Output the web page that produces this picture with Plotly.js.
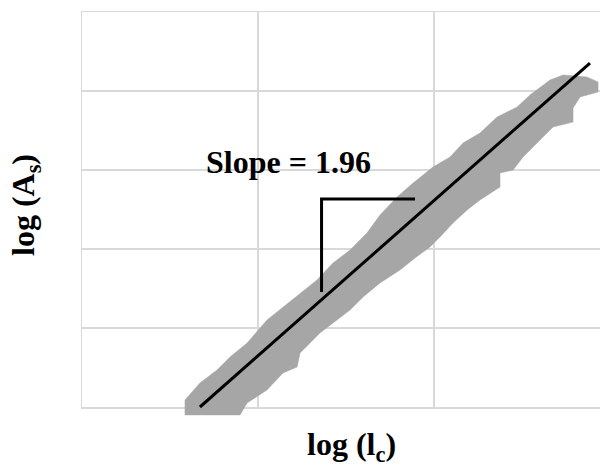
<!DOCTYPE html>
<html>
<head>
<meta charset="utf-8">
<script src="https://cdn.plot.ly/plotly-3.0.1.min.js"></script>
<style>html,body{margin:0;padding:0;background:#fff;}#chart{width:600px;height:466px;}</style>
</head>
<body>
<div id="chart"></div>
<script>
// Data band (scatter cloud of log(As) vs log(lc)), upper edge left->right
const bandUpperX = [0.585,0.585,0.670,0.767,0.841,0.938,1.051,1.142,1.239,1.335,1.426,1.523,1.619,1.693,1.790,1.881,1.994,2.091,2.165,2.261,2.358,2.472,2.545,2.659,2.733,2.869,2.932,2.932];
const bandUpperY = [-0.10,0.089,0.304,0.468,0.633,0.810,1.101,1.266,1.443,1.608,1.823,1.987,2.203,2.430,2.658,2.835,3.038,3.165,3.342,3.468,3.671,3.797,3.949,4.139,4.203,4.177,4.114,3.987];
// lower edge right->left
const bandLowerX = [2.830,2.790,2.790,2.676,2.602,2.506,2.449,2.375,2.375,2.261,2.188,2.108,2.034,1.977,1.892,1.807,1.693,1.597,1.523,1.449,1.352,1.239,1.222,1.142,1.051,0.938,0.898,0.585];
const bandLowerY = [3.924,3.785,3.608,3.544,3.380,3.165,3.000,2.962,2.785,2.620,2.494,2.329,2.152,2.025,1.886,1.734,1.570,1.392,1.228,1.101,0.937,0.684,0.506,0.430,0.215,0.051,-0.10,-0.10];
// fitted power-law line
const fitX = [0.670, 2.886];
const fitY = [0.000, 4.354];
// slope triangle
const triX = [1.361, 1.361, 1.892];
const triY = [1.456, 2.633, 2.633];
const slopeLabel = "Slope = 1.96";
const xTitle = "log (l<sub>c</sub>)";
const yTitle = "log (A<sub>s</sub>)";

const font = "'Times New Roman', 'Liberation Serif', serif";
const grid = '#d9d9d9';
const traces = [
  // invisible trace to establish the gridded subplot
  {x: [0], y: [0], xaxis: 'x', yaxis: 'y', type: 'scatter', mode: 'markers', marker: {opacity: 0}, hoverinfo: 'skip'},
  {x: bandUpperX.concat(bandLowerX), y: bandUpperY.concat(bandLowerY), xaxis: 'x2', yaxis: 'y2', type: 'scatter', mode: 'lines',
   fill: 'toself', fillcolor: '#a6a6a6', line: {color: '#a6a6a6', width: 0.5}, hoverinfo: 'skip'},
  {x: fitX, y: fitY, xaxis: 'x2', yaxis: 'y2', type: 'scatter', mode: 'lines', line: {color: '#000', width: 3}},
  {x: triX, y: triY, xaxis: 'x2', yaxis: 'y2', type: 'scatter', mode: 'lines', line: {color: '#000', width: 3}}
];
const yLow = -19/79;
const layout = {
  width: 600, height: 466,
  margin: {l: 82, r: 0, t: 12, b: 40},
  paper_bgcolor: '#fff', plot_bgcolor: 'rgba(0,0,0,0)',
  showlegend: false,
  xaxis: {domain: [0, 1], range: [0, 2.943], dtick: 1, tick0: 0, showticklabels: false, ticks: '', anchor: 'y',
          showgrid: true, gridcolor: grid, gridwidth: 1.5, zeroline: false,
          showline: true, linecolor: grid, linewidth: 1.5, mirror: true, fixedrange: true},
  yaxis: {domain: [19/414, 1], range: [0, 5], dtick: 1, tick0: 0, showticklabels: false, ticks: '', anchor: 'x',
          showgrid: true, gridcolor: grid, gridwidth: 1.5, zeroline: false,
          showline: true, linecolor: grid, linewidth: 1.5, fixedrange: true},
  xaxis2: {domain: [0, 1], range: [0, 2.943], anchor: 'y2', visible: false, showgrid: false, zeroline: false, fixedrange: true},
  yaxis2: {domain: [0, 1], range: [yLow, 5], anchor: 'x2', visible: false, showgrid: false, zeroline: false, fixedrange: true},
  annotations: [
    {text: '<b>' + slopeLabel + '</b>', xref: 'x', yref: 'y', x: 1.176, y: 3.10, showarrow: false,
     xanchor: 'center', yanchor: 'middle', font: {family: font, size: 32, color: '#000'}},
    {text: '<b>' + xTitle + '</b>', xref: 'paper', yref: 'paper', x: (351-82)/518, y: (426-446)/414, showarrow: false,
     xanchor: 'center', yanchor: 'middle', font: {family: font, size: 32, color: '#000'}},
    {text: '<b>' + yTitle + '</b>', xref: 'paper', yref: 'paper', x: (26-82)/518, y: (426-205)/414, showarrow: false,
     textangle: -90, xanchor: 'center', yanchor: 'middle', font: {family: font, size: 32, color: '#000'}}
  ]
};
Plotly.newPlot('chart', traces, layout, {displayModeBar: false, staticPlot: true});
</script>
</body>
</html>
